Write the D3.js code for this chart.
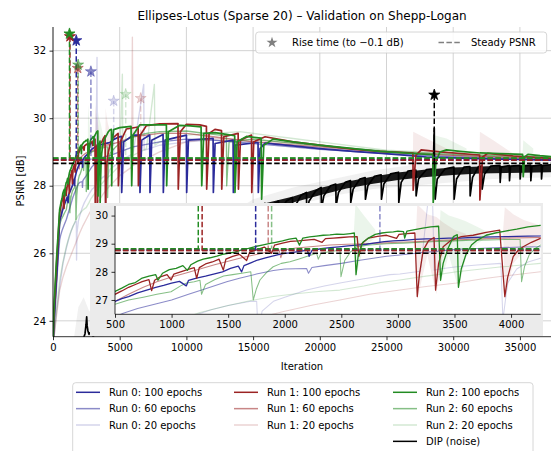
<!DOCTYPE html>
<html>
<head>
<meta charset="utf-8">
<script src="https://cdnjs.cloudflare.com/ajax/libs/d3/7.8.5/d3.min.js"></script>
<style>
  body { margin: 0; background: #fff; }
  text { font-family: "DejaVu Sans", sans-serif; fill: #000; }
</style>
</head>
<body>
<div id="chart"></div>
<script>
/* ---------------- data: [iteration, PSNR] ---------------- */
var run2_100 = [[0,23.2],[40,24.0],[100,24.6],[180,25.2],[260,25.8],[340,26.3],[420,26.8],[500,27.3],[560,27.42],[620,27.55],[680,27.62],[740,27.78],[800,27.85],[860,27.9],[880,27.7],[920,27.95],[980,28.08],[1040,28.12],[1100,28.22],[1140,28.05],[1170,28.25],[1230,28.38],[1280,28.45],[1340,28.5],[1400,28.56],[1450,28.62],[1500,28.66],[1560,28.7],[1620,28.78],[1680,28.83],[1740,28.9],[1800,28.95],[1860,29.0],[1920,29.05],[1980,29.1],[2040,29.16],[2100,29.2],[2130,28.95],[2160,29.2],[2220,29.24],[2280,29.27],[2340,29.3],[2400,29.31],[2460,29.34],[2520,29.33],[2580,29.36],[2615,29.38],[2630,27.9],[2650,28.6],[2690,29.05],[2740,29.2],[2800,29.33],[2860,29.38],[2900,29.4],[2960,29.42],[3000,29.45],[3050,29.43],[3060,29.2],[3080,29.45],[3150,29.5],[3220,29.55],[3290,29.6],[3360,29.62],[3377,27.7],[3400,28.3],[3440,28.8],[3490,29.25],[3525,29.32],[3535,27.45],[3560,28.1],[3600,28.6],[3650,28.95],[3700,29.12],[3780,29.3],[3860,29.38],[3950,29.45],[4050,29.52],[4150,29.6],[4260,29.65],[4380,29.67],[4400,28.0],[4450,29.3],[4550,29.66],[5000,29.72],[5850,29.76],[5900,28.0],[6000,29.5],[6500,29.8],[7300,29.8],[8000,29.8],[8500,29.8],[8520,28.0],[8650,29.6],[9500,29.79],[10300,29.77],[11100,29.74],[11150,28.0],[11300,29.55],[12140,29.57],[13000,29.52],[13620,29.48],[13640,27.8],[13800,29.3],[14500,29.46],[15600,29.41],[15640,27.6],[15800,29.2],[16500,29.38],[18000,29.3],[20000,29.2],[22000,29.12],[24500,29.02],[26000,28.98],[27500,28.94],[28480,28.92],[28500,27.5],[28700,28.7],[29000,29.0],[29500,29.06],[30500,29.02],[32000,28.97],[33500,28.95],[35200,28.93],[35250,28.27],[35350,28.85],[35600,28.93],[36500,28.89],[37400,28.86]];

var run1_100 = [[0,23.2],[40,23.9],[100,24.45],[180,25.05],[260,25.65],[340,26.15],[420,26.7],[500,27.2],[560,27.32],[620,27.45],[680,27.55],[740,27.65],[800,27.72],[824,27.33],[850,27.7],[900,27.82],[960,27.9],[995,27.71],[1020,27.92],[1080,28.0],[1140,28.08],[1200,28.15],[1222,27.77],[1245,28.15],[1300,28.28],[1360,28.35],[1420,28.45],[1457,28.06],[1480,28.45],[1540,28.55],[1600,28.62],[1663,28.4],[1690,28.7],[1750,28.78],[1820,28.88],[1884,28.66],[1910,28.95],[1980,29.02],[2050,29.08],[2120,29.1],[2190,29.13],[2260,29.15],[2330,29.05],[2360,29.18],[2430,29.2],[2500,29.22],[2570,29.24],[2640,29.25],[2655,28.55],[2680,29.0],[2740,29.2],[2820,29.26],[2900,29.3],[2988,29.19],[3010,29.33],[3080,29.36],[3150,29.38],[3171,27.12],[3190,27.9],[3224,28.77],[3270,29.1],[3320,29.22],[3333,27.35],[3360,28.3],[3400,28.89],[3470,29.12],[3560,29.25],[3665,29.3],[3780,29.4],[3900,29.48],[3945,27.12],[3970,27.8],[4019,28.54],[4060,28.75],[4107,28.89],[4180,29.05],[4260,29.19],[4500,29.42],[4880,29.55],[4900,28.0],[5050,29.3],[5500,29.68],[6380,29.74],[6400,28.0],[6550,29.5],[7000,29.78],[8000,29.83],[9370,29.84],[9390,27.9],[9550,29.6],[10000,29.82],[11000,29.8],[11500,29.76],[11520,27.9],[11700,29.55],[12140,29.67],[12630,29.63],[12650,27.9],[12800,29.45],[13880,29.55],[13900,27.9],[14050,29.35],[14880,29.5],[14900,27.8],[15050,29.3],[15900,29.45],[18000,29.3],[20000,29.2],[22500,29.08],[24500,29.02],[26980,28.97],[27000,27.87],[27200,28.9],[27600,29.06],[29000,29.0],[31980,28.91],[32000,27.58],[32200,28.85],[32600,28.96],[34500,28.88],[37400,28.81]];

var run0_100 = [[0,23.2],[40,23.75],[100,24.2],[180,24.75],[260,25.25],[340,25.75],[420,26.4],[500,26.95],[560,27.05],[620,27.12],[700,27.25],[780,27.35],[860,27.45],[930,27.52],[1000,27.6],[1070,27.66],[1130,27.5],[1150,27.7],[1220,27.78],[1300,27.85],[1380,27.93],[1450,28.0],[1520,28.12],[1590,28.2],[1619,28.0],[1640,28.22],[1700,28.32],[1760,28.42],[1830,28.5],[1900,28.57],[1970,28.64],[2040,28.67],[2120,28.72],[2200,28.77],[2215,28.55],[2240,28.76],[2320,28.82],[2400,28.86],[2480,28.89],[2560,28.92],[2640,28.95],[2720,28.98],[2800,29.03],[2880,29.07],[2960,29.1],[3050,29.12],[3150,29.15],[3250,29.17],[3350,29.18],[3450,29.2],[3550,29.2],[3650,29.22],[3750,29.23],[3850,29.24],[3950,29.25],[4050,29.26],[4150,29.27],[4260,29.28],[4600,29.38],[5000,29.45],[5130,29.46],[5150,27.8],[5300,29.3],[6000,29.5],[6500,29.5],[6520,27.8],[6650,29.35],[7250,29.5],[7270,27.8],[7400,29.35],[8250,29.52],[8270,27.8],[8400,29.35],[10000,29.5],[10020,27.8],[10150,29.35],[12000,29.4],[12020,27.8],[12150,29.25],[13500,29.35],[13520,27.8],[13650,29.2],[15370,29.28],[15390,27.8],[15520,29.1],[15900,29.26],[18000,29.18],[20000,29.1],[22500,29.02],[24640,28.96],[28000,28.85],[32000,28.8],[37400,28.76]];

var run2_60 = [[0,23.2],[60,23.9],[150,24.6],[250,25.3],[380,26.2],[500,26.85],[620,27.0],[750,27.1],[870,27.2],[995,27.29],[1080,27.5],[1133,27.6],[1200,27.65],[1251,27.7],[1265,27.2],[1300,27.55],[1380,27.72],[1460,27.85],[1540,27.9],[1620,27.95],[1700,28.0],[1722,27.0],[1750,27.4],[1781,27.71],[1840,27.98],[1898,28.18],[1970,28.3],[2046,28.36],[2120,28.45],[2200,28.55],[2282,28.66],[2296,28.45],[2320,28.65],[2400,28.72],[2488,28.77],[2497,27.83],[2530,28.4],[2580,28.7],[2634,28.89],[2750,28.95],[2900,29.0],[3050,29.02],[3200,29.05],[3350,29.08],[3500,29.1],[3650,29.12],[3800,29.13],[3950,29.15],[4080,29.15],[4093,27.65],[4120,28.2],[4160,28.6],[4210,28.82],[4260,28.95],[4700,29.15],[5000,29.25],[6000,29.45],[7000,29.55],[8000,29.6],[10000,29.62],[12000,29.52],[13000,29.48],[13020,28.0],[13200,29.3],[15000,29.38],[17000,29.3],[20000,29.18],[25000,29.02],[30000,28.93],[37400,28.84]];

var run1_60 = [[0,23.2],[60,23.8],[150,24.45],[250,25.15],[380,26.2],[500,26.95],[620,27.2],[750,27.45],[870,27.65],[1000,27.82],[1120,27.95],[1250,28.1],[1380,28.25],[1500,28.38],[1620,28.5],[1750,28.62],[1870,28.72],[1950,28.78],[1965,28.5],[1990,28.78],[2100,28.85],[2250,28.9],[2400,28.95],[2550,28.98],[2700,29.0],[2850,29.02],[3000,29.05],[3200,29.08],[3400,29.12],[3600,29.15],[3800,29.18],[4000,29.2],[4260,29.22],[5000,29.3],[6000,29.45],[8000,29.55],[10000,29.55],[12000,29.45],[15000,29.3],[20000,29.15],[25000,29.0],[30000,28.9],[37400,28.8]];

var run0_60 = [[0,23.2],[60,23.7],[150,24.2],[250,24.9],[380,25.8],[500,26.4],[573,26.53],[700,26.7],[850,26.85],[1000,27.0],[1150,27.2],[1300,27.4],[1487,27.65],[1600,27.77],[1750,27.92],[1900,28.05],[2000,28.1],[2193,28.12],[2210,27.95],[2240,28.15],[2350,28.22],[2500,28.3],[2650,28.4],[2782,28.48],[2900,28.55],[3018,28.6],[3200,28.68],[3400,28.75],[3519,28.8],[3700,28.83],[3900,28.86],[4100,28.88],[4260,28.89],[5000,29.0],[6000,29.15],[8000,29.3],[10000,29.38],[12000,29.35],[15000,29.25],[20000,29.08],[25000,28.95],[30000,28.85],[37400,28.76]];

var run0_20 = [[0,23.2],[100,23.6],[250,24.2],[500,25.0],[750,25.7],[1000,26.15],[1163,26.4],[1350,26.65],[1500,26.8],[1700,26.95],[1752,26.95],[1765,25.8],[1800,26.6],[1900,26.95],[2000,27.1],[2193,27.35],[2350,27.5],[2488,27.6],[2700,27.75],[2929,27.9],[3018,27.92],[3200,28.02],[3300,31.8],[3320,28.06],[3400,28.12],[3519,28.18],[3700,28.24],[3910,28.3],[3928,26.3],[3970,27.6],[4050,28.1],[4150,28.35],[4260,28.48],[5000,28.72],[6000,28.95],[6800,31.0],[6830,29.05],[8000,29.2],[10000,29.3],[12000,29.35],[15000,29.3],[20000,29.12],[25000,28.98],[30000,28.88],[37400,28.78]];

var run2_20 = [[0,23.2],[100,23.7],[250,24.3],[500,25.2],[750,25.75],[1000,26.2],[1250,26.55],[1500,26.8],[1700,26.98],[1898,27.12],[2100,27.22],[2300,27.3],[2488,27.35],[2700,27.5],[2850,27.62],[3018,27.71],[3200,27.82],[3350,27.9],[3519,28.0],[3700,28.08],[3900,28.17],[4100,28.24],[4260,28.3],[5000,28.6],[5200,31.3],[5240,28.65],[6000,28.9],[7000,29.1],[7600,31.0],[7640,29.2],[8000,29.3],[9000,29.4],[10000,29.5],[12000,29.55],[14000,29.6],[16000,29.5],[18000,29.4],[20000,29.3],[25000,29.05],[30000,28.95],[37400,28.85]];

var run1_20 = [[0,23.2],[100,23.6],[250,24.1],[500,24.9],[750,25.3],[1000,25.6],[1250,25.85],[1500,26.1],[1750,26.35],[2000,26.6],[2250,26.82],[2488,27.0],[2750,27.2],[3018,27.35],[3250,27.48],[3519,27.6],[3750,27.75],[4000,27.88],[4260,28.0],[5000,28.3],[5900,28.55],[5950,32.4],[6000,28.6],[7000,28.8],[8000,29.0],[9000,29.15],[10000,29.3],[12000,29.4],[15000,29.35],[20000,29.2],[25000,29.0],[30000,28.9],[37400,28.8]];

var dip_noise = [[1500,22.8],[2000,23.3],[2300,23.5],[2400,23.62],[2480,23.9],[2525,24.12],[2560,23.85],[2620,23.7],[2700,23.6],[2800,23.65],[3000,23.55],[3300,23.62],[3600,23.58],[4000,23.7],[4500,23.78],[5000,23.85],[6000,24.3],[7000,24.8],[8000,25.3],[9000,25.7],[10000,26.1],[11000,26.4],[12000,26.7],[13000,26.9],[14000,27.1],[15000,27.3],[15900,27.48],[15920,26.9],[16100,27.25],[16500,27.45],[16900,27.55],[16920,26.95],[17100,27.3],[17500,27.55],[17950,27.65],[17970,27.05],[18150,27.4],[18600,27.72],[19000,27.8],[19020,27.2],[19200,27.55],[19700,27.85],[20100,27.95],[20120,27.3],[20300,27.7],[20800,28.0],[21200,28.05],[21220,27.4],[21400,27.8],[21900,28.1],[22300,28.15],[22320,27.5],[22500,27.9],[23000,28.2],[23400,28.24],[23420,27.6],[23600,28.0],[24100,28.28],[24600,28.32],[24620,27.6],[24800,28.05],[25300,28.35],[25900,28.4],[25920,27.5],[26100,28.1],[26600,28.43],[27200,28.46],[27220,27.7],[27400,28.2],[28000,28.48],[28500,28.5],[28580,29.7],[28600,28.0],[28650,27.6],[28800,28.2],[29400,28.5],[30050,28.55],[30070,27.6],[30250,28.2],[30800,28.55],[31250,28.57],[31270,27.7],[31450,28.25],[31900,28.57],[32150,28.58],[32170,27.9],[32350,28.35],[32800,28.58],[33500,28.6],[33520,28.1],[33600,28.55],[34200,28.6],[34220,28.15],[34300,28.58],[35000,28.6],[35020,28.2],[35100,28.58],[35800,28.61],[35820,28.15],[35900,28.58],[36600,28.62],[36620,28.2],[36700,28.6],[37400,28.62]];

// spreads, [iteration, low, high]
var dip_band   = [[1500,22.8,23.3],[1900,23.2,24.4],[2300,23.4,24.7],[2700,23.5,24.3],[3500,23.5,24.0],[5000,23.7,24.1],[10000,25.9,26.3],[15000,27.1,27.6],[18000,27.4,27.95],[21000,27.7,28.2],[24000,27.9,28.45],[27000,28.0,28.62],[30000,28.1,28.72],[33000,28.2,28.75],[37400,28.25,28.78]];
var dip_spread = [[15900,27.3,27.48],[18000,27.5,27.68],[20000,27.72,27.93],[22000,27.92,28.12],[24000,28.06,28.27],[26000,28.18,28.4],[28000,28.26,28.48],[30000,28.32,28.54],[32000,28.36,28.57],[34000,28.38,28.59],[37400,28.4,28.61]];
var run1_bands = [
  [[3160,29.3,29.4],[3171,27.0,30.4],[3260,28.6,30.05],[3340,27.2,29.95],[3400,28.7,29.75],[3500,29.1,29.5],[3600,29.25,29.35]],
  [[3930,29.4,29.5],[3945,27.0,30.3],[4019,28.3,30.05],[4107,28.7,29.85],[4260,29.0,29.65],[4500,29.3,29.5]],
  [[26980,28.97,29.0],[27000,28.97,29.6],[28000,28.98,29.4],[29500,29.0,29.1]],
  [[31980,28.91,28.95],[32000,28.91,29.6],[33000,28.93,29.35],[34500,28.88,28.95]]];
var run2_bands = [
  [[2610,29.3,29.4],[2625,27.8,30.4],[2700,28.9,30.0],[2800,29.2,29.5]],
  [[3370,29.55,29.65],[3377,27.6,30.2],[3450,28.6,30.0],[3535,27.4,29.9],[3600,28.5,29.8],[3700,29.0,29.6],[3800,29.25,29.4]],
  [[28480,28.92,28.95],[28500,28.92,29.5],[29500,29.06,29.4],[31000,29.0,29.1]],
  [[35200,28.93,28.95],[35250,28.93,29.35],[36000,28.92,29.1]]];

var labels = ["Run 0: 100 epochs","Run 0: 60 epochs","Run 0: 20 epochs",
              "Run 1: 100 epochs","Run 1: 60 epochs","Run 1: 20 epochs",
              "Run 2: 100 epochs","Run 2: 60 epochs","Run 2: 20 epochs","DIP (noise)"];
// steady PSNR per curve (same order as labels)
var steady = [28.77,28.77,28.77, 28.76,28.76,28.76, 28.82,28.82,28.82, 28.66];
// rise time to -0.1 dB and marker height
var riseIter = [1743,2841,4550, 1270,1854,6575, 1236,1884,5450, 28580];
var riseY    = [32.3,31.38,30.51, 32.42,31.48,30.59, 32.5,31.58,30.71, 30.69];

var xTicks = [0,5000,10000,15000,20000,25000,30000,35000];
var yTicks = [24,26,28,30,32];
var xTicksInset = [500,1000,1500,2000,2500,3000,3500,4000];
var yTicksInset = [27,28,29,30];

/* ---------------- styling ---------------- */
var runColor = ["#2b2b9b", "#9b2323", "#228b22"];
var epochAlpha = [1, 0.55, 0.2];

var curves = [run0_100, run0_60, run0_20, run1_100, run1_60, run1_20, run2_100, run2_60, run2_20, dip_noise];
function colorOf(i) { return i === 9 ? "#000" : runColor[Math.floor(i / 3)]; }
function alphaOf(i) { return i === 9 ? 1 : epochAlpha[i % 3]; }

var svg = d3.select("#chart").append("svg")
  .attr("width", 553).attr("height", 451);

/* ---------------- main axes ---------------- */
var x = d3.scaleLinear().domain([0, 37330]).range([53, 551]);
var y = d3.scaleLinear().domain([23.53, 32.7]).range([336.7, 27]);

svg.append("text").attr("x", 302).attr("y", 20).attr("text-anchor", "middle")
  .style("font-size", "12px").text("Ellipses-Lotus (Sparse 20) \u2013 Validation on Shepp-Logan");

// grid
var grid = svg.append("g");
xTicks.forEach(function(t) {
  grid.append("line").attr("x1", x(t)).attr("x2", x(t)).attr("y1", 27).attr("y2", 336.7)
    .attr("stroke", "#c8c8c8").attr("stroke-width", 0.8);
});
yTicks.forEach(function(t) {
  grid.append("line").attr("x1", 53).attr("x2", 551).attr("y1", y(t)).attr("y2", y(t))
    .attr("stroke", "#c8c8c8").attr("stroke-width", 0.8);
});

var defs = svg.append("defs");
defs.append("clipPath").attr("id", "clipMain").append("rect")
  .attr("x", 53).attr("y", 27).attr("width", 498).attr("height", 309.7);

// draws every curve into a group with given scales
function drawCurves(g, sx, sy, lw) {
  var line = d3.line().x(function(d) { return sx(d[0]); }).y(function(d) { return sy(d[1]); });
  var band = d3.area().x(function(d) { return sx(d[0]); })
    .y0(function(d) { return sy(d[1]); }).y1(function(d) { return sy(d[2]); });

  g.append("path").attr("d", band(dip_band)).attr("fill", "#888").attr("opacity", 0.12);
  run1_bands.forEach(function(b) {
    g.append("path").attr("d", band(b)).attr("fill", runColor[1]).attr("opacity", 0.09);
  });
  run2_bands.forEach(function(b) {
    g.append("path").attr("d", band(b)).attr("fill", runColor[2]).attr("opacity", 0.09);
  });

  // 20 epochs, 60 epochs, DIP, then 100 epochs on top
  var order = [2, 5, 8, 1, 4, 7, 9, 0, 3, 6];
  order.forEach(function(i) {
    if (i === 9) {
      g.append("path").attr("d", band(dip_spread)).attr("fill", "#000").attr("opacity", 0.9);
    }
    var w = (i % 3 === 0 || i === 9) ? lw : lw * 0.8;
    g.append("path").attr("d", line(curves[i]))
      .attr("fill", "none").attr("stroke", colorOf(i))
      .attr("stroke-opacity", alphaOf(i)).attr("stroke-width", w)
      .attr("stroke-linejoin", "round");
  });
}

var mainG = svg.append("g").attr("clip-path", "url(#clipMain)");
drawCurves(mainG, x, y, 1.7);

// steady PSNR lines and rise markers
var drawOrder = [2, 5, 8, 1, 4, 7, 0, 3, 6, 9];
function drawSteady(g, sx, sy, x0, x1, topY) {
  drawOrder.forEach(function(i) {
    g.append("line").attr("x1", x0).attr("x2", x1).attr("y1", sy(steady[i])).attr("y2", sy(steady[i]))
      .attr("stroke", colorOf(i)).attr("stroke-opacity", alphaOf(i))
      .attr("stroke-width", 1.7).attr("stroke-dasharray", "5.5,2.4");
  });
  drawOrder.forEach(function(i) {
    var yt = topY === null ? sy(riseY[i]) : topY;
    g.append("line").attr("x1", sx(riseIter[i])).attr("x2", sx(riseIter[i]))
      .attr("y1", yt).attr("y2", sy(steady[i]))
      .attr("stroke", colorOf(i)).attr("stroke-opacity", alphaOf(i))
      .attr("stroke-width", 1.5).attr("stroke-dasharray", "5.5,2.4");
  });
}
var mainMarks = svg.append("g").attr("clip-path", "url(#clipMain)");
drawSteady(mainMarks, x, y, 53, 551, null);

var star = d3.symbol().type(d3.symbolStar).size(38);
drawOrder.forEach(function(i) {
  svg.append("path").attr("d", star())
    .attr("transform", "translate(" + x(riseIter[i]) + "," + y(riseY[i]) + ")")
    .attr("fill", colorOf(i)).attr("fill-opacity", alphaOf(i))
    .attr("stroke", colorOf(i)).attr("stroke-opacity", alphaOf(i)).attr("stroke-width", 0.8);
});

// main axes: left and bottom spines only
var xAxis = svg.append("g").attr("transform", "translate(0,336.7)")
  .call(d3.axisBottom(x).tickValues(xTicks).tickSize(3.5).tickPadding(3.5).tickFormat(d3.format("d")));
var yAxis = svg.append("g").attr("transform", "translate(53,0)")
  .call(d3.axisLeft(y).tickValues(yTicks).tickSize(3.5).tickPadding(3.5).tickFormat(d3.format("d")));
[xAxis, yAxis].forEach(function(a) {
  a.select(".domain").remove();
  a.selectAll("text").style("font-size", "10px").style("font-family", "DejaVu Sans").attr("fill", "#000");
  a.selectAll("line").attr("stroke", "#000").attr("stroke-width", 0.8);
});
svg.append("line").attr("x1", 53).attr("x2", 53).attr("y1", 27).attr("y2", 336.7).attr("stroke", "#000").attr("stroke-width", 0.8);
svg.append("line").attr("x1", 53).attr("x2", 551).attr("y1", 336.7).attr("y2", 336.7).attr("stroke", "#000").attr("stroke-width", 0.8);

svg.append("text").attr("x", 302).attr("y", 370).attr("text-anchor", "middle")
  .style("font-size", "10px").text("Iteration");
svg.append("text").attr("transform", "translate(24,181) rotate(-90)").attr("text-anchor", "middle")
  .style("font-size", "10px").text("PSNR [dB]");

/* ---------------- inset ---------------- */
var xi = d3.scaleLinear().domain([500, 4262]).range([115, 540.7]);
var yi = d3.scaleLinear().domain([26.49, 30.34]).range([314.3, 206]);

svg.append("rect").attr("x", 90).attr("y", 203).attr("width", 453).attr("height", 133)
  .attr("fill", "#ebebeb");
svg.append("rect").attr("x", 115).attr("y", 206).attr("width", 425.7).attr("height", 108.3)
  .attr("fill", "#fff");
defs.append("clipPath").attr("id", "clipInset").append("rect")
  .attr("x", 115).attr("y", 206).attr("width", 425.7).attr("height", 108.3);

var insetG = svg.append("g").attr("clip-path", "url(#clipInset)");
drawCurves(insetG, xi, yi, 1.3);
drawSteady(insetG, xi, yi, 115, 540.7, 206);

var xAxisI = svg.append("g").attr("transform", "translate(0,314.3)")
  .call(d3.axisBottom(xi).tickValues(xTicksInset).tickSize(3.5).tickPadding(3.5).tickFormat(d3.format("d")));
var yAxisI = svg.append("g").attr("transform", "translate(115,0)")
  .call(d3.axisLeft(yi).tickValues(yTicksInset).tickSize(3.5).tickPadding(3.5).tickFormat(d3.format("d")));
[xAxisI, yAxisI].forEach(function(a) {
  a.select(".domain").remove();
  a.selectAll("text").style("font-size", "10px").style("font-family", "DejaVu Sans").attr("fill", "#000");
  a.selectAll("line").attr("stroke", "#000").attr("stroke-width", 0.8);
});
svg.append("line").attr("x1", 115).attr("x2", 115).attr("y1", 206).attr("y2", 314.3).attr("stroke", "#000").attr("stroke-width", 0.8);
svg.append("line").attr("x1", 115).attr("x2", 540.7).attr("y1", 314.3).attr("y2", 314.3).attr("stroke", "#000").attr("stroke-width", 0.8);

/* ---------------- legends ---------------- */
var lt = svg.append("g");
lt.append("rect").attr("x", 255.7).attr("y", 32).attr("width", 291).attr("height", 21).attr("rx", 3)
  .attr("fill", "#fff").attr("fill-opacity", 0.85).attr("stroke", "#ccc").attr("stroke-width", 0.8);
lt.append("path").attr("d", star()).attr("transform", "translate(272,42.5)").attr("fill", "#808080");
lt.append("text").attr("x", 292).attr("y", 46).style("font-size", "10px").text("Rise time (to \u22120.1 dB)");
lt.append("line").attr("x1", 438.5).attr("x2", 461.5).attr("y1", 42.5).attr("y2", 42.5)
  .attr("stroke", "#808080").attr("stroke-width", 1.5).attr("stroke-dasharray", "5.5,2.4");
lt.append("text").attr("x", 471).attr("y", 46).style("font-size", "10px").text("Steady PSNR");

var lb = svg.append("g");
lb.append("rect").attr("x", 72.7).attr("y", 382.7).attr("width", 460.3).attr("height", 80).attr("rx", 3)
  .attr("fill", "#fff").attr("stroke", "#ccc").attr("stroke-width", 0.8);
var colX = [76, 234, 393];
labels.forEach(function(lab, i) {
  var c = i === 9 ? 2 : Math.floor(i / 3);
  var r = i === 9 ? 3 : i % 3;
  var yy = 392.3 + r * 16.35;
  lb.append("line").attr("x1", colX[c]).attr("x2", colX[c] + 24).attr("y1", yy).attr("y2", yy)
    .attr("stroke", colorOf(i)).attr("stroke-opacity", alphaOf(i)).attr("stroke-width", 1.5);
  lb.append("text").attr("x", colX[c] + 33).attr("y", yy + 3.6).style("font-size", "10px").text(lab);
});
</script>
</body>
</html>
